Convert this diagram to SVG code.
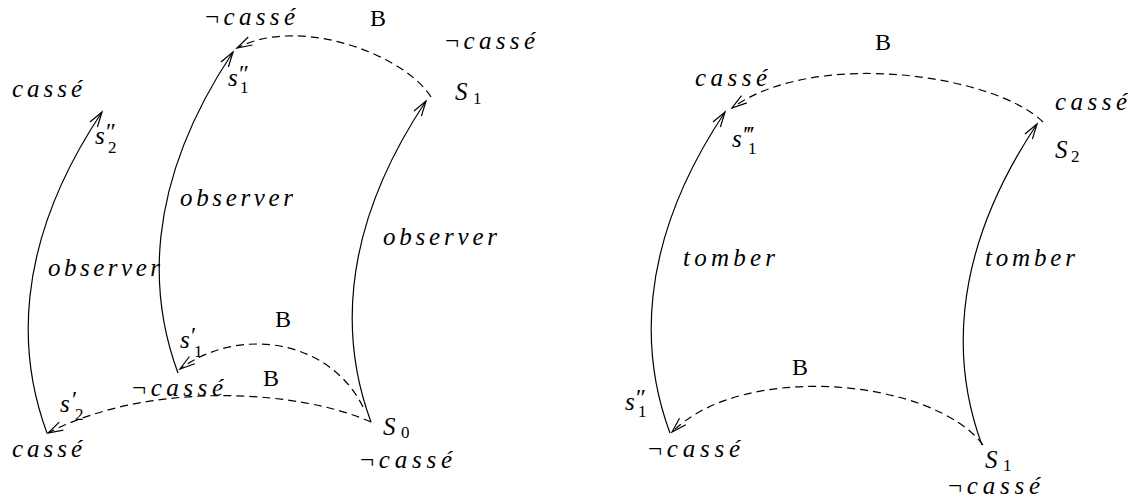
<svg xmlns="http://www.w3.org/2000/svg" width="1140" height="502" viewBox="0 0 1140 502">
<style>
.m{font-family:"Liberation Serif",serif;font-style:italic;font-size:25px;fill:#000}
.r{font-family:"Liberation Serif",serif;font-size:24px;fill:#000}
.n{font-style:normal}
.sb{font-style:normal;font-size:17px}
.pr{font-style:normal;font-size:24px}
.solid{fill:none;stroke:#000;stroke-width:1.2}
.dash{fill:none;stroke:#000;stroke-width:1.2;stroke-dasharray:8 5}
</style>
<defs>
<marker id="ah" markerUnits="userSpaceOnUse" markerWidth="17" markerHeight="12" refX="15" refY="6" orient="auto" overflow="visible">
<path d="M0,1.5 L15,6 L0,10.5" fill="none" stroke="#000" stroke-width="1.2" stroke-dasharray="none"/>
</marker>
</defs>

<g id="connectors">
<path class="solid" marker-end="url(#ah)" d="M47,433 C20,360 10,250 102,112"/>
<path class="solid" marker-end="url(#ah)" d="M178,373 C151,300 141,190 233,52"/>
<path class="solid" marker-end="url(#ah)" d="M371,422 C344,349 334,239 426,101"/>
<path class="dash" marker-end="url(#ah)" d="M431,97 C405,55 300,15 237,48"/>
<path class="dash" marker-end="url(#ah)" d="M363,407 C330,340 240,325 180,369"/>
<path class="dash" marker-end="url(#ah)" d="M371,422 C300,390 150,380 48,433"/>
<path class="solid" marker-end="url(#ah)" d="M670,433 C643,360 633,250 725,112"/>
<path class="solid" marker-end="url(#ah)" d="M982,445 C955,372 945,262 1037,124"/>
<path class="dash" marker-end="url(#ah)" d="M1043,122 C995,75 815,48 732,108"/>
<path class="dash" marker-end="url(#ah)" d="M983,445 C935,380 745,360 672,432"/>
</g>

<g id="edge-labels">
<text class="m" x="48" y="276" textLength="112" lengthAdjust="spacing">observer</text>
<text class="m" x="180" y="206" textLength="113" lengthAdjust="spacing">observer</text>
<text class="m" x="383" y="245" textLength="114" lengthAdjust="spacing">observer</text>
<text class="r" x="370" y="26">B</text>
<text class="r" x="275" y="327">B</text>
<text class="r" x="263" y="386">B</text>
<text class="m" x="683" y="266" textLength="92" lengthAdjust="spacing">tomber</text>
<text class="m" x="985" y="266" textLength="90" lengthAdjust="spacing">tomber</text>
<text class="r" x="875" y="50">B</text>
<text class="r" x="792" y="375">B</text>
</g>

<g id="node-S0">
<text class="m" x="383" y="435">S<tspan class="sb" x="401" y="438">0</tspan></text>
<text class="m" x="360" y="468" textLength="92" lengthAdjust="spacing"><tspan class="n">¬</tspan>cassé</text>
</g>
<g id="node-S1-left">
<text class="m" x="455" y="100">S<tspan class="sb" x="473" y="104">1</tspan></text>
<text class="m" x="445" y="49" textLength="90" lengthAdjust="spacing"><tspan class="n">¬</tspan>cassé</text>
</g>
<g id="node-s1pp-left">
<text class="m" x="228" y="86">s<tspan class="pr" x="239" y="81">″</tspan><tspan class="sb" x="240" y="93">1</tspan></text>
<text class="m" x="205" y="25" textLength="90" lengthAdjust="spacing"><tspan class="n">¬</tspan>cassé</text>
</g>
<g id="node-s2pp">
<text class="m" x="95" y="144">s<tspan class="pr" x="106" y="139">″</tspan><tspan class="sb" x="108" y="153">2</tspan></text>
<text class="m" x="12" y="97" textLength="70" lengthAdjust="spacing">cassé</text>
</g>
<g id="node-s1p">
<text class="m" x="180" y="348">s<tspan class="pr" x="191" y="343">′</tspan><tspan class="sb" x="194" y="357">1</tspan></text>
<text class="m" x="132" y="396" textLength="91" lengthAdjust="spacing"><tspan class="n">¬</tspan>cassé</text>
</g>
<g id="node-s2p">
<text class="m" x="60" y="412">s<tspan class="pr" x="72" y="407">′</tspan><tspan class="sb" x="75" y="420">2</tspan></text>
<text class="m" x="12" y="457" textLength="70" lengthAdjust="spacing">cassé</text>
</g>

<g id="node-S1-right">
<text class="m" x="985" y="468">S<tspan class="sb" x="1003" y="471">1</tspan></text>
<text class="m" x="948" y="494" textLength="92" lengthAdjust="spacing"><tspan class="n">¬</tspan>cassé</text>
</g>
<g id="node-S2">
<text class="m" x="1055" y="158">S<tspan class="sb" x="1071" y="162">2</tspan></text>
<text class="m" x="1055" y="110" textLength="72" lengthAdjust="spacing">cassé</text>
</g>
<g id="node-s1ppp">
<text class="m" x="732" y="147">s<tspan class="pr" x="744" y="142">‴</tspan><tspan class="sb" x="748" y="154">1</tspan></text>
<text class="m" x="695" y="86" textLength="72" lengthAdjust="spacing">cassé</text>
</g>
<g id="node-s1pp-right">
<text class="m" x="625" y="410">s<tspan class="pr" x="636" y="405">″</tspan><tspan class="sb" x="638" y="417">1</tspan></text>
<text class="m" x="648" y="457" textLength="92" lengthAdjust="spacing"><tspan class="n">¬</tspan>cassé</text>
</g>
</svg>
